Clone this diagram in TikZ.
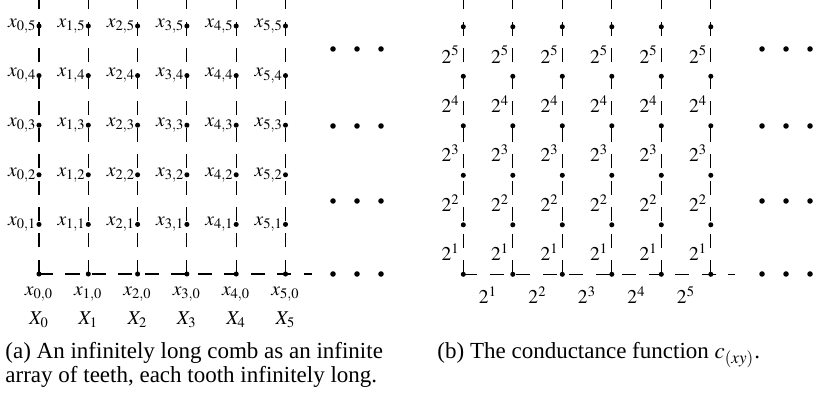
\documentclass[tikz,border=0pt]{standalone}
\usepackage{mathptmx}
\usepackage{fontspec}
\setmainfont{Liberation Serif}
\usetikzlibrary{calc}
\begin{document}
\begin{tikzpicture}[x=0.4348pt,y=-0.4348pt,
  gridline/.style={line width=0.45pt,dash pattern=on 6.09pt off 5.43pt},
  vtx/.style={circle,fill=black,inner sep=0pt,minimum size=2.2pt},
  lab/.style={inner sep=0pt,font=\fontsize{8.5}{10}\selectfont},
  captext/.style={inner sep=0pt,font=\fontsize{10}{10.5}\selectfont,align=left,anchor=north west},
  edot/.style={circle,fill=black,inner sep=0pt,minimum size=2.4pt}]
\useasboundingbox (0,0) rectangle (813,411);
% ---------- left panel ----------
\foreach \i in {0,...,5}{
  \pgfmathsetmacro{\cx}{39+49.3*\i}
  \foreach \j in {0,...,5}{
    \pgfmathsetmacro{\cy}{274-49.6*\j}
    \node[vtx] (a\i\j) at (\cx,\cy) {};
  }
  \coordinate (at\i) at (\cx,0);
  \draw[gridline] (a\i0.center) -- (at\i);
  \foreach \j in {1,...,5}{
    \node[lab,anchor=east] (xl\i\j) at ($(a\i\j.center)+(-2,0)$) {$x_{\i,\j}$};
  }
  \node[lab] (xl\i0) at ($(a\i0.center)+(0,20)$) {$x_{\i,0}$};
  \node[lab] (Xl\i) at ($(a\i0.center)+(0,46)$) {$X_{\i}$};
}
\coordinate (aend) at (312,274);
\draw[gridline] (a00.center) -- (aend);
\foreach \y/\n in {49/1,126/2,201/3,274/4}{
  \foreach \x/\m in {333/1,357/2,381/3}{
    \node[edot] (ad\n\m) at (\x,\y) {};
  }
}
% ---------- right panel ----------
\foreach \i in {0,...,5}{
  \pgfmathsetmacro{\cx}{463.3+49.5*\i}
  \foreach \j in {0,...,5}{
    \pgfmathsetmacro{\cy}{274.3-49.5*\j}
    \node[vtx] (b\i\j) at (\cx,\cy) {};
  }
  \coordinate (bt\i) at (\cx,0);
  \draw[gridline] (b\i0.center) -- (bt\i);
  \foreach \j [evaluate=\j as \k using int(\j-1)] in {1,...,5}{
    \node[lab,anchor=east] (wl\i\j) at ($(b\i\k)!0.5!(b\i\j)+(-3,3)$) {$2^{\j}$};
  }
}
\foreach \i [evaluate=\i as \k using int(\i+1)] in {0,...,4}{
  \node[lab] (bl\i) at ($(b\i0)!0.5!(b\k0)+(0,21)$) {$2^{\k}$};
}
\coordinate (bend) at (735,274.3);
\draw[gridline] (b00.center) -- (bend);
\foreach \y/\n in {49/1,126/2,201/3,274/4}{
  \foreach \x/\m in {762/1,786/2,810/3}{
    \node[edot] (bd\n\m) at (\x,\y) {};
  }
}
% ---------- captions ----------
\node[captext] (capa) at (5,342) {(a) An infinitely long comb as an infinite\\array of teeth, each tooth infinitely long.};
\node[captext] (capb) at (437,342) {(b) The conductance function $c_{(xy)}$.};
\end{tikzpicture}
\end{document}
